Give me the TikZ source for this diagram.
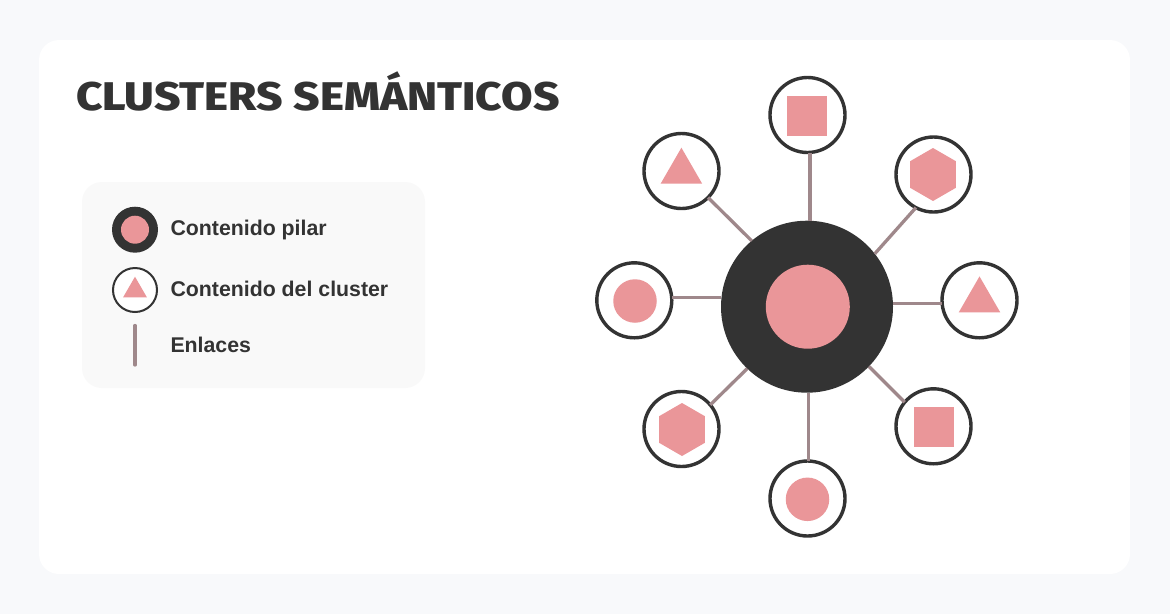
\documentclass[tikz,border=0pt]{standalone}
\usepackage{fontspec}
\usetikzlibrary{shapes.geometric}
\setmainfont{Liberation Sans}
\newfontfamily\titlefont[FakeStretch=1.143]{Fira Sans ExtraBold}
\definecolor{pagebg}{HTML}{F8F9FB}
\definecolor{legendbg}{HTML}{F9F9F9}
\definecolor{ink}{HTML}{333333}
\definecolor{rosy}{HTML}{EA9699}
\definecolor{linkc}{HTML}{9F888B}
\tikzset{
  plain/.style={inner sep=0pt,outer sep=0pt},
  hub/.style={plain,circle,fill=ink,minimum size=172pt},
  hubcore/.style={plain,circle,fill=rosy,minimum size=84pt},
  leaf/.style={plain,circle,draw=ink,line width=3.4pt,fill=white,minimum size=75pt},
  glyphsq/.style={plain,rectangle,fill=rosy,minimum size=40pt},
  glyphci/.style={plain,circle,fill=rosy,minimum size=43.5pt},
  glyphtri/.style={plain,regular polygon,regular polygon sides=3,fill=rosy,minimum size=48pt},
  glyphhex/.style={plain,regular polygon,regular polygon sides=6,shape border rotate=30,fill=rosy,minimum size=53pt},
  link/.style={draw=linkc,line width=3.3pt},
  legendtext/.style={plain,anchor=base west,text=ink,font=\fontsize{21.3}{24}\selectfont\bfseries},
  titletext/.style={plain,anchor=base west,text=ink,font=\titlefont\fontsize{40}{44}\selectfont}
}
\begin{document}
\begin{tikzpicture}[x=1pt,y=-1pt]
\useasboundingbox (0,0) rectangle (1170,614);
\fill[pagebg] (0,0) rectangle (1170,614);
\fill[white,rounded corners=20pt] (39,40) rectangle (1130,574);
\fill[legendbg,rounded corners=20pt] (82,182) rectangle (425,388);

\node[titletext] (title) at (76,110) {CLUSTERS SEMÁNTICOS};

% legend
\node[plain,circle,fill=ink,minimum size=46pt] (lpilar) at (135,229.7) {};
\node[plain,circle,fill=rosy,minimum size=28pt] (lpilarcore) at (135,229.7) {};
\node[plain,circle,draw=ink,line width=2pt,fill=white,minimum size=44pt] (lcluster) at (135,290) {};
\node[plain,regular polygon,regular polygon sides=3,fill=rosy,minimum size=27.4pt] (lclustertri) at (135,290.4) {};
\coordinate (lla) at (135,325.5);
\coordinate (llb) at (135,365);
\draw[link,line cap=round] (lla) -- (llb);
\node[legendtext] (t1) at (170.5,235.5) {Contenido pilar};
\node[legendtext] (t2) at (170.5,296.5) {Contenido del cluster};
\node[legendtext] (t3) at (170.5,352.5) {Enlaces};

% nodes
\node[hub] (c) at (807,306.7) {};
\node[leaf] (n1) at (807.5,115) {};
\node[leaf] (n2) at (933.5,174.5) {};
\node[leaf] (n3) at (979.5,300.3) {};
\node[leaf] (n4) at (933.5,426.3) {};
\node[leaf] (n5) at (807.5,498.5) {};
\node[leaf] (n6) at (681.5,429) {};
\node[leaf] (n7) at (634.3,300.3) {};
\node[leaf] (n8) at (681.5,171) {};

% links
\draw[link] (c.88.2 |- n1.south) -- (c.88.2);
\draw[link] (n2.-118.4) -- (c.38.6);
\draw[link] (n3.west |- c.2.7) -- (c.2.7);
\draw[link] (n4.140.6) -- (c.-44.8);
\draw[link] (c.-89 |- n5.north) -- (c.-89);
\draw[link] (n6.40.4) -- (c.-134.4);
\draw[link] (n7.east |- c.174.7) -- (c.174.7);
\draw[link] (n8.-45.5) -- (c.130.4);

% glyphs
\node[hubcore] (core) at (807.8,306.7) {};
\node[glyphsq] (g1) at (807,116) {};
\node[glyphhex] (g2) at (933,174.5) {};
\node[glyphtri] (g3) at (979.5,300.4) {};
\node[glyphsq] (g4) at (934,426.7) {};
\node[glyphci] (g5) at (807.5,499.3) {};
\node[glyphhex] (g6) at (682,429.5) {};
\node[glyphci] (g7) at (635,301) {};
\node[glyphtri] (g8) at (681.4,171.7) {};
\end{tikzpicture}
\end{document}
